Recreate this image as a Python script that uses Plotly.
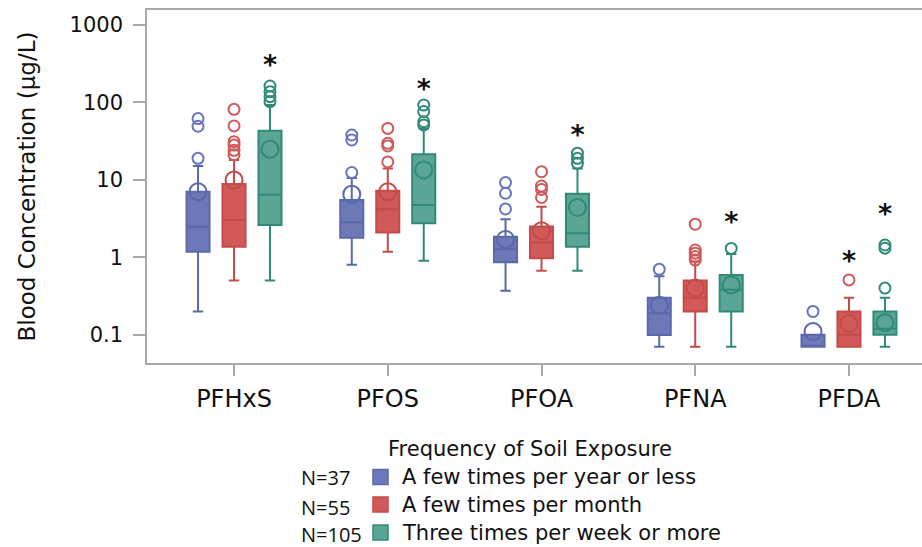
import plotly.graph_objects as go

categories = ["PFHxS", "PFOS", "PFOA", "PFNA", "PFDA"]
groups = ["A few times per year or less", "A few times per month", "Three times per week or more"]
n_labels = ["N=37", "N=55", "N=105"]
legend_title = "Frequency of Soil Exposure"

# box statistics per group (one value per category)
q1_blue = [1.18, 1.79, 0.86, 0.099, 0.07]
med_blue = [2.48, 2.83, 1.27, 0.19, 0.07]
q3_blue = [7.0, 5.5, 1.84, 0.30, 0.10]
lo_blue = [0.20, 0.80, 0.37, 0.07, 0.07]
hi_blue = [15, 10.5, 3.1, 0.57, 0.10]
mean_blue = [7.0, 6.5, 1.7, 0.24, 0.11]
out_blue = [[18.9, 49, 61.5], [12.4, 32.6, 37.8], [4.2, 6.7, 9.2], [0.70], [0.20]]

q1_red = [1.37, 2.08, 0.97, 0.20, 0.07]
med_red = [3.03, 4.16, 1.55, 0.30, 0.10]
q3_red = [8.8, 7.2, 2.5, 0.50, 0.20]
lo_red = [0.50, 1.18, 0.67, 0.07, 0.07]
hi_red = [18, 14, 4.5, 0.88, 0.30]
mean_red = [9.9, 7.0, 2.2, 0.40, 0.14]
out_red = [[21, 24, 28, 31, 49.5, 81], [17, 27.3, 29.5, 46], [5.9, 7.5, 8.3, 12.7],
           [0.92, 1.02, 1.13, 1.24, 2.67], [0.51]]

q1_green = [2.6, 2.75, 1.37, 0.20, 0.10]
med_green = [6.4, 4.73, 2.04, 0.38, 0.12]
q3_green = [43, 21.3, 6.6, 0.59, 0.20]
lo_green = [0.50, 0.90, 0.67, 0.07, 0.07]
hi_green = [92, 46, 14, 1.1, 0.30]
mean_green = [24.7, 13.4, 4.4, 0.44, 0.143]
out_green = [[102, 118, 137, 162], [51, 56, 76, 92], [16.3, 18.9, 22], [1.3], [0.40, 1.31, 1.44]]

# significance asterisks: category index, group index, level
star_cat = [0, 1, 2, 3, 4, 4]
star_grp = [2, 2, 2, 2, 1, 2]
star_val = [286, 140, 35, 2.63, 0.83, 3.38]

stats = [
    (q1_blue, med_blue, q3_blue, lo_blue, hi_blue, mean_blue, out_blue),
    (q1_red, med_red, q3_red, lo_red, hi_red, mean_red, out_red),
    (q1_green, med_green, q3_green, lo_green, hi_green, mean_green, out_green),
]

fills = ["#6c79b6", "#d25959", "#5ba596"]
lines = ["#5b69ab", "#c54a4a", "#2f8a78"]
out_cols = ["#6675bd", "#cf5a5a", "#2f8a78"]
offsets = [-0.234, 0.0, 0.234]
FONT = "DejaVu Sans"

fig = go.Figure()
for g in range(3):
    q1, med, q3, lo, hi, mean, outs = stats[g]
    xs = [i + offsets[g] for i in range(len(categories))]
    fig.add_trace(go.Box(
        x=xs, q1=q1, median=med, q3=q3, lowerfence=lo, upperfence=hi,
        name=groups[g], width=0.15, whiskerwidth=0.45,
        fillcolor=fills[g], line=dict(color=lines[g], width=2),
        boxpoints=False, showlegend=False, hoverinfo="skip",
    ))
    ox, oy = [], []
    for i, vals in enumerate(outs):
        for v in vals:
            ox.append(i + offsets[g])
            oy.append(v)
    fig.add_trace(go.Scatter(
        x=ox, y=oy, mode="markers", showlegend=False, hoverinfo="skip",
        marker=dict(symbol="circle-open", size=11, color=out_cols[g], line=dict(width=2)),
    ))
    fig.add_trace(go.Scatter(
        x=xs, y=mean, mode="markers", showlegend=False, hoverinfo="skip",
        marker=dict(symbol="circle-open", size=17, color=lines[g], line=dict(width=2)),
    ))

fig.add_trace(go.Scatter(
    x=[c + offsets[g] for c, g in zip(star_cat, star_grp)], y=star_val,
    mode="text", text=["*"] * len(star_val), textposition="middle center",
    textfont=dict(family=FONT, size=27, color="#111111", weight="bold"),
    showlegend=False, hoverinfo="skip",
))

# plot-area pixel geometry (for paper coordinate conversion)
L, R, T, B = 147, 922, 10, 363
def px_y(y):
    return (B - y) / (B - T)
def px_x(x):
    return (x - L) / (R - L)

# legend drawn manually (title, swatches, labels, N counts)
fig.add_annotation(
    text=legend_title, xref="paper", yref="paper", x=px_x(386), y=px_y(449),
    xanchor="left", yanchor="middle", showarrow=False,
    font=dict(family=FONT, size=21, color="#111111"),
)
row_y = [477, 504.5, 532.5]
n_y = [478, 507, 534]
for k in range(3):
    fig.add_shape(
        type="rect", xref="paper", yref="paper",
        x0=px_x(373), x1=px_x(388), y0=px_y(row_y[k] - 7.5), y1=px_y(row_y[k] + 7.5),
        fillcolor=fills[k], line=dict(color=lines[k], width=1.5),
    )
    fig.add_annotation(
        text=groups[k], xref="paper", yref="paper", x=px_x(400), y=px_y(row_y[k]),
        xanchor="left", yanchor="middle", showarrow=False,
        font=dict(family=FONT, size=21, color="#111111"),
    )
    fig.add_annotation(
        text=n_labels[k], xref="paper", yref="paper", x=px_x(299), y=px_y(n_y[k]),
        xanchor="left", yanchor="middle", showarrow=False,
        font=dict(family="Open Sans", size=20, color="#111111"),
    )

fig.update_layout(
    width=922, height=547,
    margin=dict(l=L, r=0, t=T, b=547 - B),
    paper_bgcolor="white", plot_bgcolor="white",
    font=dict(family=FONT, color="#111111"),
    boxmode="overlay", showlegend=False,
    xaxis=dict(
        range=[-0.566, 4.475], tickvals=list(range(len(categories))), ticktext=categories,
        showgrid=False, zeroline=False, showline=True, linecolor="#a9a9a9", linewidth=1.5,
        mirror=True, ticks="outside", ticklen=11, tickcolor="#a9a9a9", tickwidth=1.5,
        tickfont=dict(family=FONT, size=24, color="#111111"), ticklabelstandoff=2,
    ),
    yaxis=dict(
        type="log", range=[-1.364, 3.19], tickvals=[0.1, 1, 10, 100, 1000],
        ticktext=["0.1", "1", "10", "100", "1000"],
        showgrid=False, zeroline=False, showline=True, linecolor="#a9a9a9", linewidth=1.5,
        ticks="outside", ticklen=12, tickcolor="#a9a9a9", tickwidth=1.5,
        tickfont=dict(family=FONT, size=21, color="#111111"), ticklabelstandoff=6,
        title=dict(text="Blood Concentration (µg/L)", standoff=28,
                   font=dict(family=FONT, size=23, color="#111111")),
    ),
)

fig.write_html("out.html")
